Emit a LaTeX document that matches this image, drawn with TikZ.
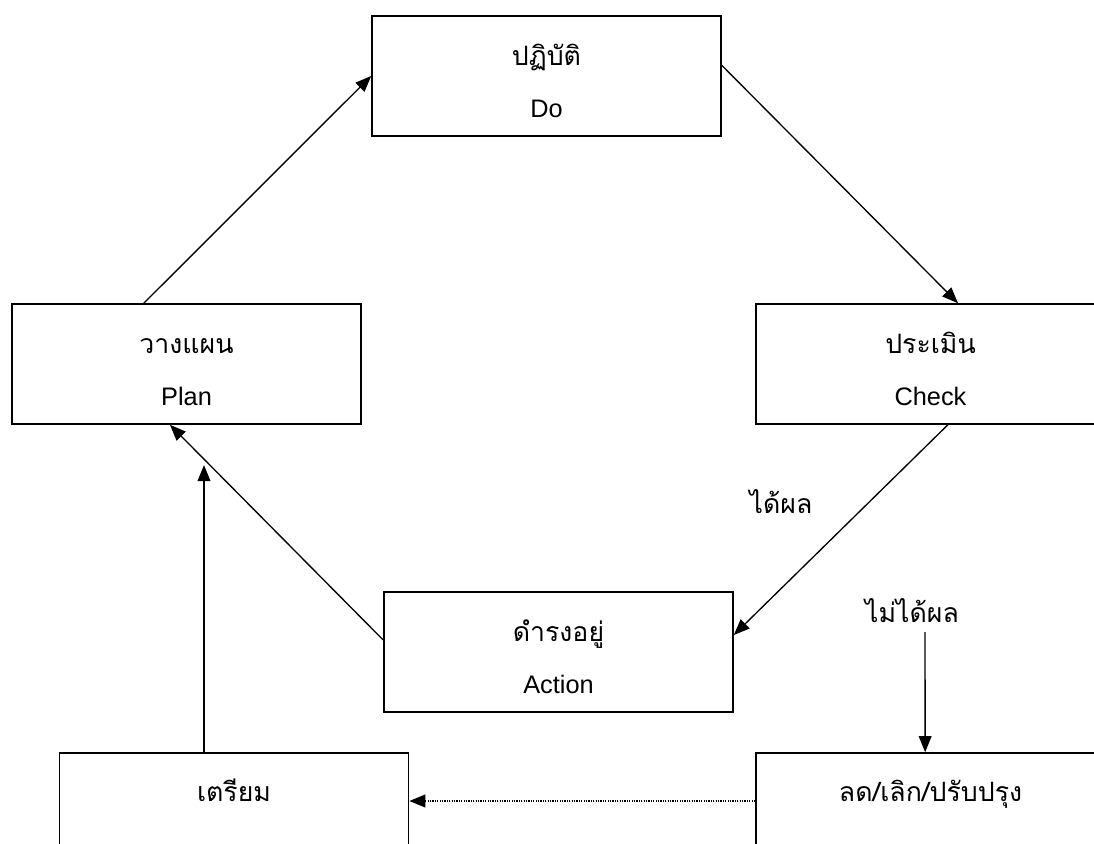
\documentclass[tikz,border=0pt]{standalone}
\usepackage{fontspec}
\setmainfont{Liberation Sans}
\newfontfamily\thaifont[Script=Thai]{Loma}
\usetikzlibrary{positioning,arrows.meta}

\begin{document}
\begin{tikzpicture}[
    x=0.75pt, y=-0.75pt,
    box/.style={
        rectangle,
        minimum width=261.75pt,
        minimum height=90pt,
        inner sep=0pt,
        draw=black,
        line width=1.2pt
    },
    thai/.style={
        anchor=base,
        font=\thaifont\fontsize{20}{24}\selectfont
    },
    eng/.style={
        anchor=base,
        font=\fontsize{19}{22}\selectfont
    },
    arrow/.style={
        -{Triangle[length=12pt,width=9.5pt]},
        line width=1pt
    }
]
\useasboundingbox (0,0) rectangle (1094,843);
\clip (0,0) rectangle (1094,843);

% Do
\node[box] (do) at (546.5,76) {};
\node[thai] (dothai) at (546.5,65) {ปฏิบัติ};
\node[eng] (doeng) at (546.5,117) {Do};

% Plan
\node[box] (plan) at (186.5,364) {};
\node[thai] (planthai) at (186.5,353) {วางแผน};
\node[eng] (planeng) at (186.5,405) {Plan};

% Check
\node[box] (check) at (930.5,364) {};
\node[thai] (checkthai) at (930.5,353) {ประเมิน};
\node[eng] (checkeng) at (930.5,405) {Check};

% Action
\node[box] (act) at (558.5,652) {};
\node[thai] (actthai) at (558.5,641) {ดำรงอยู่};
\node[eng] (acteng) at (558.5,693) {Action};

% Prepare and Improve
\node[box] (prep) at (234,813) {};
\node[thai] (prepthai) at (234,801) {เตรียม};
\node[box] (fix) at (930.5,813) {};
\node[thai] (fixthai) at (930.5,801) {ลด/เลิก/ปรับปรุง};

% Labels
\node[thai] (good) at (781,513) {ได้ผล};
\node[thai] (nogood) at (912,622) {ไม่ได้ผล};
\coordinate (nogoodend) at (925,632);
\coordinate (prepend) at (204,465);

% Arrows
\draw[arrow] ([xshift=-32pt]plan.north) -- (do.west);
\draw[arrow] ([yshift=8pt]do.east) -- ([xshift=20.6pt]check.north);
\draw[arrow] ([xshift=13pt]check.south) -- ([yshift=12.75pt]act.east);
\draw[arrow] ([yshift=9pt]act.west) -- ([xshift=-12.4pt]plan.south);
\draw[arrow] ([xshift=-22.5pt]prep.north) -- (prepend);
\draw[arrow] (nogoodend) -- ([xshift=-4pt]fix.north);
\draw[arrow, line width=1.3pt, dash pattern=on 0.9pt off 0.9pt] ([yshift=9pt]fix.west) -- ([yshift=9pt]prep.east);

\end{tikzpicture}
\end{document}
